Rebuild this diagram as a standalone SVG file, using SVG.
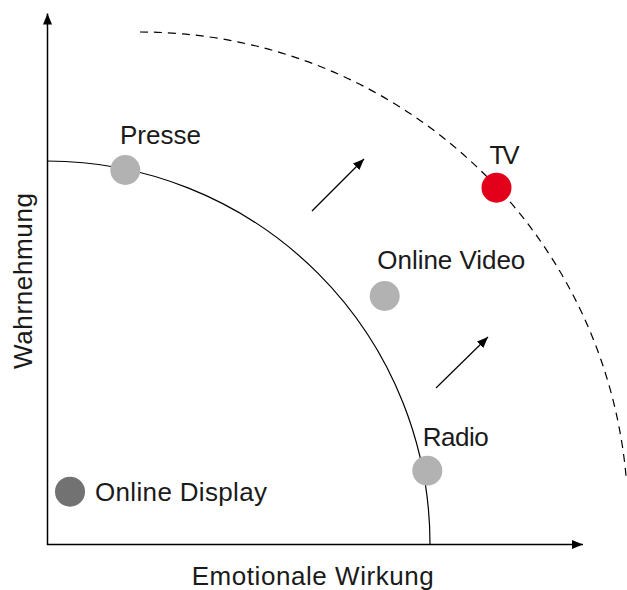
<svg xmlns="http://www.w3.org/2000/svg" width="627" height="590" viewBox="0 0 627 590">
<defs>
<marker id="ah" markerUnits="userSpaceOnUse" markerWidth="12" markerHeight="10" refX="11" refY="5" orient="auto">
<path d="M0,0.5 L11,5 L0,9.5 Z" fill="#000"/>
</marker>
</defs>
<style>
.lbl{font-family:"Liberation Sans",Arial,sans-serif;font-size:26px;fill:#1a1a1a}
.axis{stroke:#000;stroke-width:1.5;fill:none}
.arc{stroke:#000;stroke-width:1.2;fill:none}
.dash{stroke:#000;stroke-width:1.2;fill:none;stroke-dasharray:8 6}
.grey{fill:#b2b2b2}
.dark{fill:#727272}
.red{fill:#e3001b}
</style>
<rect width="627" height="590" fill="#fff"/>
<g id="connectors">
<line class="axis" x1="47.5" y1="545" x2="47.5" y2="13.5" marker-end="url(#ah)"/>
<line class="axis" x1="47" y1="544.5" x2="583" y2="544.5" marker-end="url(#ah)"/>
<path class="arc" d="M47,161 A383,383 0 0 1 430,544"/>
<path class="dash" d="M140,32 A488,488 0 0 1 626.2,478"/>
<line class="arc" x1="312" y1="211" x2="364" y2="159" marker-end="url(#ah)"/>
<line class="arc" x1="436" y1="388" x2="488" y2="337" marker-end="url(#ah)"/>
</g>
<g id="presse">
<circle class="grey" cx="125.3" cy="170" r="15"/>
<text class="lbl" x="120" y="144" textLength="81">Presse</text>
</g>
<g id="tv">
<circle class="red" cx="496.5" cy="187.7" r="15"/>
<text class="lbl" x="489.5" y="164.3" textLength="30">TV</text>
</g>
<g id="online-video">
<circle class="grey" cx="384.7" cy="296" r="15"/>
<text class="lbl" x="377.3" y="269.3" textLength="148">Online Video</text>
</g>
<g id="radio">
<circle class="grey" cx="427.3" cy="470.7" r="15"/>
<text class="lbl" x="422.7" y="445.7" textLength="66">Radio</text>
</g>
<g id="online-display">
<circle class="dark" cx="70" cy="491.7" r="15"/>
<text class="lbl" x="95" y="501" textLength="172">Online Display</text>
</g>
<g id="x-label">
<text class="lbl" x="191.7" y="585" textLength="242">Emotionale Wirkung</text>
</g>
<g id="y-label">
<text class="lbl" transform="translate(31.7,369) rotate(-90)" x="0" y="0" textLength="176">Wahrnehmung</text>
</g>
</svg>
